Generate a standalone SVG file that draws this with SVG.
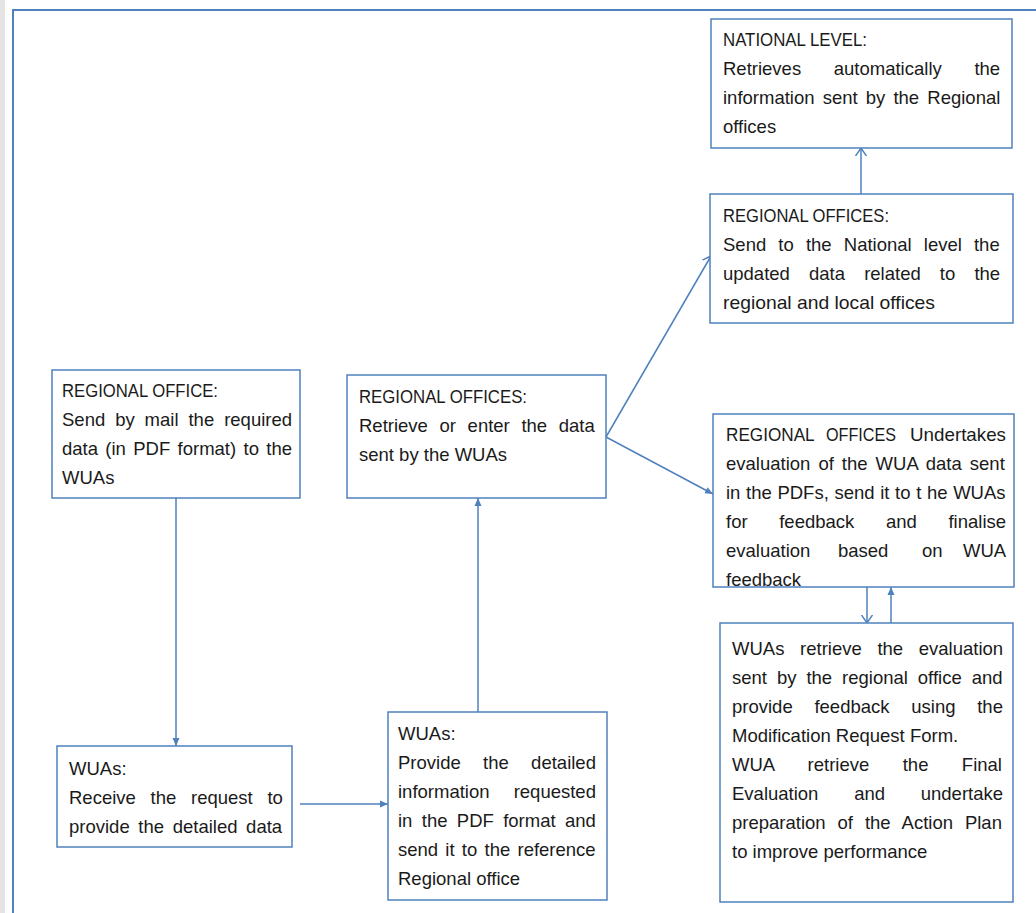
<svg xmlns="http://www.w3.org/2000/svg" width="1036" height="913" viewBox="0 0 1036 913">
<style>
.box{fill:#fff;stroke:#4F81BD;stroke-width:1.5}
.t{font-family:"Liberation Sans",Arial,sans-serif;font-size:18.5px;fill:#1a1a1a}
.c{fill:none;stroke:#4F81BD;stroke-width:1.5}
</style>
<defs>
<marker id="fa" markerUnits="userSpaceOnUse" markerWidth="9" markerHeight="8" refX="8" refY="4" orient="auto">
<path d="M0,0.5 L8,4 L0,7.5 z" fill="#4F81BD"/>
</marker>
<marker id="oa" markerUnits="userSpaceOnUse" markerWidth="10" markerHeight="12" refX="8" refY="6" orient="auto">
<path d="M0,0.5 L8,6 L0,11.5" fill="none" stroke="#4F81BD" stroke-width="1.5"/>
</marker>
</defs>
<rect x="0" y="0" width="1036" height="913" fill="#fff"/>
<rect x="0" y="0" width="5" height="913" fill="#e4e4e4"/>
<path d="M13,913 V10 H1036" fill="none" stroke="#4F81BD" stroke-width="2"/>

<g id="connectors">
<line class="c" x1="176" y1="498" x2="176" y2="746" marker-end="url(#fa)"/>
<line class="c" x1="300" y1="804" x2="388" y2="804" marker-end="url(#fa)"/>
<line class="c" x1="478" y1="712" x2="478" y2="498" marker-end="url(#fa)"/>
<line class="c" x1="606" y1="437" x2="711" y2="256" marker-end="url(#oa)"/>
<line class="c" x1="606" y1="437" x2="713" y2="494" marker-end="url(#fa)"/>
<line class="c" x1="861" y1="194" x2="861" y2="148" marker-end="url(#oa)"/>
<line class="c" x1="867" y1="587" x2="867" y2="623" marker-end="url(#oa)"/>
<line class="c" x1="891" y1="623" x2="891" y2="587" marker-end="url(#fa)"/>
</g>

<g id="national">
<rect class="box" x="711" y="19" width="301" height="129"/>
<text class="t" x="723" y="46" textLength="144" lengthAdjust="spacingAndGlyphs">NATIONAL LEVEL:</text>
<text class="t" x="723" y="75" word-spacing="27.5">Retrieves automatically the</text>
<text class="t" x="723" y="104" word-spacing="3">information sent by the Regional</text>
<text class="t" x="723" y="133">offices</text>
</g>

<g id="regional-send">
<rect class="box" x="710" y="194" width="303" height="129"/>
<text class="t" x="723" y="222" textLength="166" lengthAdjust="spacingAndGlyphs">REGIONAL OFFICES:</text>
<text class="t" x="723" y="251" word-spacing="7">Send to the National level the</text>
<text class="t" x="723" y="280" word-spacing="14">updated data related to the</text>
<text class="t" x="723" y="309" textLength="212" lengthAdjust="spacingAndGlyphs">regional and local offices</text>
</g>

<g id="regional-office">
<rect class="box" x="52" y="370" width="248" height="128"/>
<text class="t" x="62" y="397" textLength="156" lengthAdjust="spacingAndGlyphs">REGIONAL OFFICE:</text>
<text class="t" x="62" y="426" word-spacing="4.8">Send by mail the required</text>
<text class="t" x="62" y="455" word-spacing="2.2">data (in PDF format) to the</text>
<text class="t" x="62" y="484">WUAs</text>
</g>

<g id="regional-retrieve">
<rect class="box" x="347" y="375" width="259" height="123"/>
<text class="t" x="359" y="403" textLength="168" lengthAdjust="spacingAndGlyphs">REGIONAL OFFICES:</text>
<text class="t" x="359" y="432" word-spacing="6.5">Retrieve or enter the data</text>
<text class="t" x="359" y="461">sent by the WUAs</text>
</g>

<g id="wuas-receive">
<rect class="box" x="57" y="746" width="235" height="101"/>
<text class="t" x="69" y="775">WUAs:</text>
<text class="t" x="69" y="804" word-spacing="9.6">Receive the request to</text>
<text class="t" x="69" y="833" word-spacing="3.5">provide the detailed data</text>
</g>

<g id="wuas-provide">
<rect class="box" x="388" y="712" width="219" height="188"/>
<text class="t" x="398" y="740">WUAs:</text>
<text class="t" x="398" y="769" word-spacing="17.2">Provide the detailed</text>
<text class="t" x="398" y="798" word-spacing="19">information requested</text>
<text class="t" x="398" y="827" word-spacing="4.2">in the PDF format and</text>
<text class="t" x="398" y="856" word-spacing="2.1">send it to the reference</text>
<text class="t" x="398" y="885">Regional office</text>
</g>

<g id="regional-evaluation">
<rect class="box" x="713" y="414" width="301" height="173"/>
<text class="t" y="441"><tspan x="726" textLength="88" lengthAdjust="spacingAndGlyphs">REGIONAL</tspan> <tspan x="826" textLength="70" lengthAdjust="spacingAndGlyphs">OFFICES</tspan> <tspan x="910" textLength="96" lengthAdjust="spacingAndGlyphs">Undertakes</tspan></text>
<text class="t" x="726" y="470" word-spacing="2.9">evaluation of the WUA data sent</text>
<text class="t" x="726" y="499" word-spacing="0.5">in the PDFs, send it to t he WUAs</text>
<text class="t" x="726" y="528" word-spacing="26.5">for feedback and finalise</text>
<text class="t" y="557"><tspan x="726">evaluation</tspan> <tspan x="838">based</tspan> <tspan x="922">on</tspan> <tspan x="963">WUA</tspan></text>
<text class="t" x="726" y="586">feedback</text>
</g>

<g id="wuas-evaluation">
<rect class="box" x="720" y="623" width="293" height="279"/>
<text class="t" x="732" y="655" word-spacing="10.5">WUAs retrieve the evaluation</text>
<text class="t" x="732" y="684" word-spacing="4.8">sent by the regional office and</text>
<text class="t" x="732" y="713" word-spacing="16.6">provide feedback using the</text>
<text class="t" x="732" y="742">Modification Request Form.</text>
<text class="t" x="732" y="771" word-spacing="28.3">WUA retrieve the Final</text>
<text class="t" x="732" y="800" word-spacing="30.6">Evaluation and undertake</text>
<text class="t" x="732" y="829" word-spacing="6.8">preparation of the Action Plan</text>
<text class="t" x="732" y="858">to improve performance</text>
</g>
</svg>
